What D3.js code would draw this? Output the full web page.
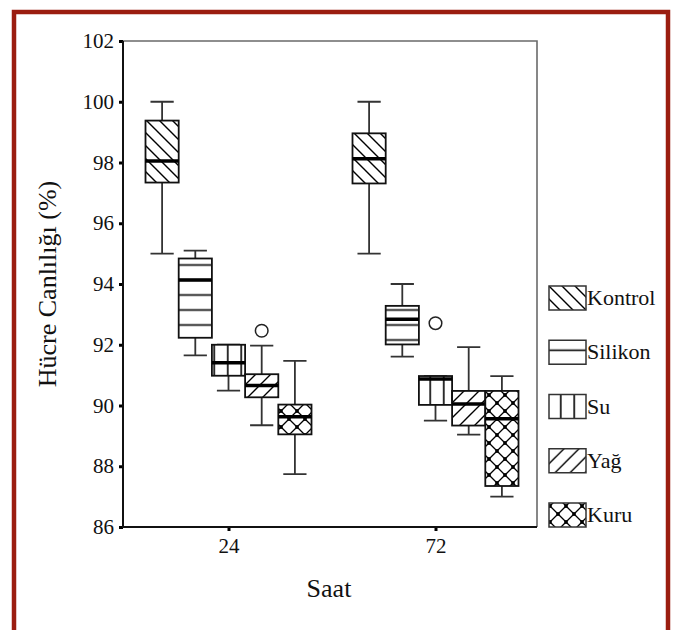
<!DOCTYPE html>
<html>
<head>
<meta charset="utf-8">
<script src="https://cdn.jsdelivr.net/npm/d3@7"></script>
<style>
    body { margin: 0; background: #fff; }
    text { font-family: "Liberation Serif", "Times New Roman", serif; fill: #111; }
</style>
</head>
<body>
<div id="chart"></div>
<script>

// categories
let timePoints = ["24", "72"];
let groups = ["Kontrol", "Silikon", "Su", "Yağ", "Kuru"];
let yTicks = [86, 88, 90, 92, 94, 96, 98, 100, 102];

// box statistics, one value per group (24 h)
let upper24 = [100.0, 95.1, 92.0, 91.97, 91.47];
let q3_24 = [99.38, 94.84, 92.0, 91.03, 90.03];
let median24 = [98.05, 94.13, 91.41, 90.66, 89.63];
let q1_24 = [97.34, 92.23, 90.98, 90.27, 89.05];
let lower24 = [95.0, 91.65, 90.49, 89.35, 87.74];

// box statistics, one value per group (72 h)
let upper72 = [100.0, 94.0, 90.97, 91.92, 90.97];
let q3_72 = [98.96, 93.28, 90.97, 90.48, 90.48];
let median72 = [98.12, 92.84, 90.87, 90.05, 89.56];
let q1_72 = [97.31, 92.01, 90.02, 89.34, 87.35];
let lower72 = [95.0, 91.61, 89.5, 89.04, 87.0];

// outliers
let outlierTimes = ["24", "72"];
let outlierGroups = ["Yağ", "Su"];
let outlierValues = [92.46, 92.71];


class BoxVis {

    constructor(parentElement) {
        this.parentElement = parentElement;
        this.initVis();
    }

    initVis() {
        let vis = this;

        vis.width = 676;
        vis.height = 630;
        vis.plot = {left: 123, right: 537, top: 41, bottom: 527};

        vis.svg = d3.select("#" + vis.parentElement).append("svg")
            .attr("width", vis.width)
            .attr("height", vis.height);

        // dark red page frame (bottom edge runs off the picture)
        vis.svg.append("rect")
            .attr("x", 14).attr("y", 12)
            .attr("width", 654).attr("height", 700)
            .attr("fill", "none")
            .attr("stroke", "#9b1d10")
            .attr("stroke-width", 4.5);

        vis.makePatterns();

        // Scales
        vis.x = d3.scalePoint()
            .domain(timePoints)
            .range([vis.plot.left + 2, vis.plot.right + 2])
            .padding(0.5);

        vis.inner = d3.scaleBand()
            .domain(groups)
            .range([-83, 83]);

        vis.y = d3.scaleLinear()
            .domain([86, 102])
            .range([vis.plot.bottom, vis.plot.top]);

        // frame: top and right in grey
        vis.svg.append("path")
            .attr("d", `M${vis.plot.left},${vis.plot.top}H${vis.plot.right}V${vis.plot.bottom}`)
            .attr("fill", "none")
            .attr("stroke", "#6a6a6a")
            .attr("stroke-width", 1.6);

        vis.wrangleData();
    }

    makePatterns() {
        let vis = this;
        let defs = vis.svg.append("defs");
        let ink = "#000";

        // Kontrol: back diagonal
        let p = defs.append("pattern").attr("id", "pat-Kontrol")
            .attr("patternUnits", "userSpaceOnUse").attr("width", 13).attr("height", 13);
        p.append("path").attr("d", "M0,0L13,13M-3,10L3,16M10,-3L16,3")
            .attr("stroke", ink).attr("stroke-width", 1.4);

        // Silikon: horizontal lines
        p = defs.append("pattern").attr("id", "pat-Silikon")
            .attr("patternUnits", "userSpaceOnUse").attr("width", 15).attr("height", 15)
            .attr("y", 2.5);
        p.append("path").attr("d", "M0,7.5H15")
            .attr("stroke", ink).attr("stroke-width", 1.6);

        // Su: vertical lines
        p = defs.append("pattern").attr("id", "pat-Su")
            .attr("patternUnits", "userSpaceOnUse").attr("width", 13.5).attr("height", 13.5)
            .attr("x", 5);
        p.append("path").attr("d", "M6.75,0V13.5")
            .attr("stroke", ink).attr("stroke-width", 1.6);

        // Yağ: forward diagonal
        p = defs.append("pattern").attr("id", "pat-Yağ")
            .attr("patternUnits", "userSpaceOnUse").attr("width", 15).attr("height", 15);
        p.append("path").attr("d", "M0,15L15,0M-3,3L3,-3M12,18L18,12")
            .attr("stroke", ink).attr("stroke-width", 1.4);

        // Kuru: cross hatch with dots
        p = defs.append("pattern").attr("id", "pat-Kuru")
            .attr("patternUnits", "userSpaceOnUse").attr("width", 16).attr("height", 16)
            .attr("x", 1).attr("y", 3);
        p.append("path").attr("d", "M0,0L16,16M16,0L0,16")
            .attr("stroke", ink).attr("stroke-width", 1.3);
        [[0, 0], [16, 0], [0, 16], [16, 16], [8, 8]].forEach(c => {
            p.append("circle").attr("cx", c[0]).attr("cy", c[1]).attr("r", 1.9).attr("fill", "#000");
        });
    }

    /*
     *  Data wrangling
     */
    wrangleData() {
        let vis = this;

        let stats = {
            "24": [upper24, q3_24, median24, q1_24, lower24],
            "72": [upper72, q3_72, median72, q1_72, lower72]
        };

        vis.displayData = [];
        timePoints.forEach(t => {
            groups.forEach((g, i) => {
                vis.displayData.push({
                    time: t,
                    group: g,
                    upper: stats[t][0][i],
                    q3: stats[t][1][i],
                    median: stats[t][2][i],
                    q1: stats[t][3][i],
                    lower: stats[t][4][i]
                });
            });
        });

        vis.outliers = outlierValues.map((v, i) => ({time: outlierTimes[i], group: outlierGroups[i], value: v}));

        vis.updateVis();
    }

    updateVis() {
        let vis = this;
        let bw = vis.inner.bandwidth();
        let capHalf = bw * 0.35;
        let cx = d => vis.x(d.time) + vis.inner(d.group) + bw / 2;

        let boxes = vis.svg.append("g").selectAll(".box")
            .data(vis.displayData)
            .enter().append("g")
            .attr("class", "box");

        // whiskers
        boxes.append("path")
            .attr("d", d => `M${cx(d)},${vis.y(d.q3)}V${vis.y(d.upper)}M${cx(d)},${vis.y(d.q1)}V${vis.y(d.lower)}`
                + `M${cx(d) - capHalf},${vis.y(d.upper)}H${cx(d) + capHalf}`
                + `M${cx(d) - capHalf},${vis.y(d.lower)}H${cx(d) + capHalf}`)
            .attr("fill", "none")
            .attr("stroke", "#333")
            .attr("stroke-width", 1.8);

        // box body
        boxes.append("rect")
            .attr("x", d => cx(d) - bw / 2)
            .attr("y", d => vis.y(d.q3))
            .attr("width", bw)
            .attr("height", d => vis.y(d.q1) - vis.y(d.q3))
            .attr("fill", "#fff");

        boxes.append("rect")
            .attr("x", d => cx(d) - bw / 2)
            .attr("y", d => vis.y(d.q3))
            .attr("width", bw)
            .attr("height", d => vis.y(d.q1) - vis.y(d.q3))
            .attr("fill", d => `url(#pat-${d.group})`)
            .attr("stroke", "#111")
            .attr("stroke-width", 1.8);

        // median
        boxes.append("line")
            .attr("x1", d => cx(d) - bw / 2)
            .attr("x2", d => cx(d) + bw / 2)
            .attr("y1", d => vis.y(d.median))
            .attr("y2", d => vis.y(d.median))
            .attr("stroke", "#000")
            .attr("stroke-width", 3.5);

        // outliers
        vis.svg.append("g").selectAll("circle")
            .data(vis.outliers)
            .enter().append("circle")
            .attr("cx", d => vis.x(d.time) + vis.inner(d.group) + bw / 2)
            .attr("cy", d => vis.y(d.value))
            .attr("r", 6.3)
            .attr("fill", "#fff")
            .attr("stroke", "#222")
            .attr("stroke-width", 1.5);

        // axes
        vis.yAxis = d3.axisLeft(vis.y).tickValues(yTicks).tickSize(4).tickPadding(5);
        vis.xAxis = d3.axisBottom(vis.x).tickSize(4).tickPadding(7);

        let yg = vis.svg.append("g")
            .attr("class", "y-axis axis")
            .attr("transform", `translate(${vis.plot.left},0)`)
            .call(vis.yAxis);

        let xg = vis.svg.append("g")
            .attr("class", "x-axis axis")
            .attr("transform", `translate(0,${vis.plot.bottom})`)
            .call(vis.xAxis);

        [yg, xg].forEach(g => {
            g.select(".domain").remove();
            g.selectAll(".tick line").attr("stroke", "#000").attr("stroke-width", 3);
            g.selectAll(".tick text")
                .style("font-family", "'Liberation Serif', serif")
                .style("font-size", "21px")
                .attr("fill", "#111");
        });

        // left + bottom axis lines
        vis.svg.append("path")
            .attr("d", `M${vis.plot.left},${vis.plot.top}V${vis.plot.bottom}H${vis.plot.right}`)
            .attr("fill", "none")
            .attr("stroke", "#111")
            .attr("stroke-width", 2);

        // axis titles
        vis.svg.append("text")
            .attr("transform", `translate(56,284) rotate(-90)`)
            .attr("text-anchor", "middle")
            .style("font-size", "26px")
            .text("Hücre Canlılığı (%)");

        vis.svg.append("text")
            .attr("x", 329)
            .attr("y", 597)
            .attr("text-anchor", "middle")
            .style("font-size", "26px")
            .text("Saat");

        // legend
        let legend = vis.svg.append("g").selectAll(".legend-item")
            .data(groups)
            .enter().append("g")
            .attr("class", "legend-item")
            .attr("transform", (d, i) => `translate(549,${286 + i * 54.25})`);

        legend.append("rect")
            .attr("width", 37).attr("height", 24)
            .attr("fill", d => `url(#pat-${d})`)
            .attr("stroke", "#333")
            .attr("stroke-width", 1.5);

        legend.append("text")
            .attr("x", 38)
            .attr("y", 19)
            .style("font-size", "22px")
            .text(d => d);
    }
}

let myBoxVis = new BoxVis("chart");

</script>
</body>
</html>
